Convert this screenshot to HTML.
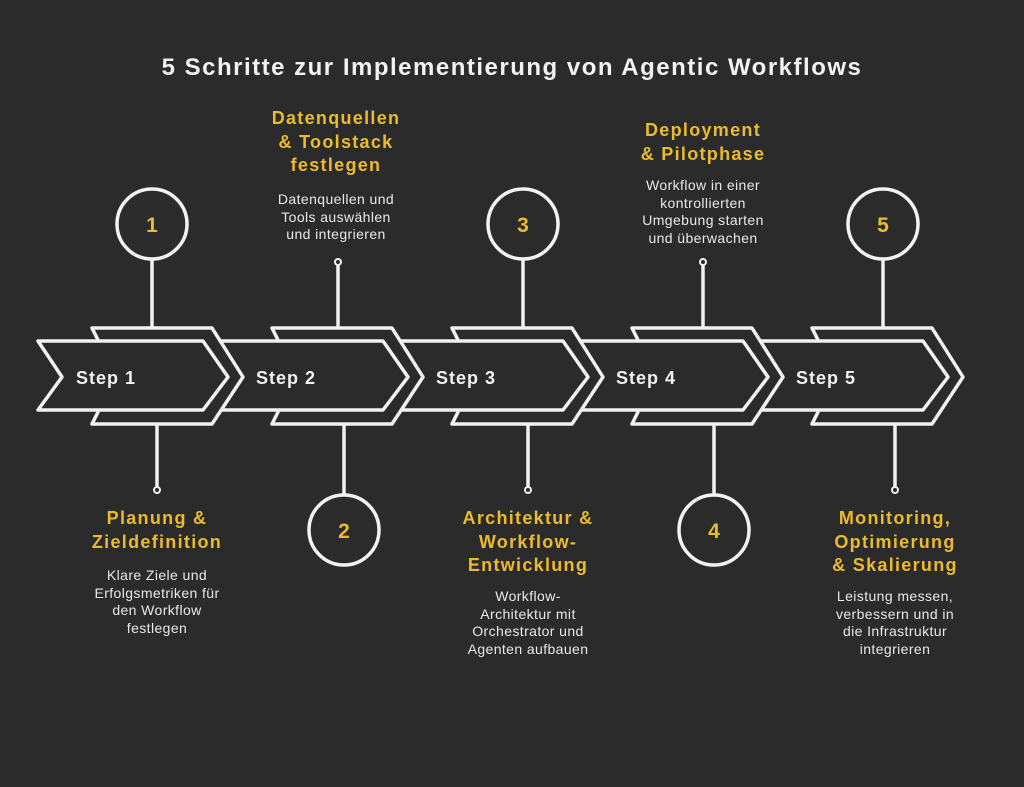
<!DOCTYPE html>
<html><head><meta charset="utf-8"><style>
body{margin:0;width:1024px;height:787px;background:#2b2b2b;overflow:hidden;position:relative;font-family:"Liberation Sans",sans-serif}
.t{position:absolute;text-align:center;width:220px}
.h{color:#ecbb2c;font-weight:bold;font-size:18px;line-height:23.5px;letter-spacing:1.3px}
.b{color:#e8e8e8;font-size:14px;line-height:17.7px;letter-spacing:0.4px}
svg{position:absolute;left:0;top:0}
</style></head><body>
<svg width="1024" height="787" fill="none" stroke="#f2f2f2" stroke-width="3.5" stroke-linejoin="round">
<g>
<polygon fill="#2b2b2b" points="812,328 932,328 963,377 932,424 812,424 818,412 818,340"/>
<polygon fill="#2b2b2b" points="758,341 923,341 948,377 923,410 758,410 782,377"/>
<polygon fill="#2b2b2b" points="632,328 752,328 783,377 752,424 632,424 638,412 638,340"/>
<polygon fill="#2b2b2b" points="578,341 743,341 768,377 743,410 578,410 602,377"/>
<polygon fill="#2b2b2b" points="452,328 572,328 603,377 572,424 452,424 458,412 458,340"/>
<polygon fill="#2b2b2b" points="398,341 563,341 588,377 563,410 398,410 422,377"/>
<polygon fill="#2b2b2b" points="272,328 392,328 423,377 392,424 272,424 278,412 278,340"/>
<polygon fill="#2b2b2b" points="218,341 383,341 408,377 383,410 218,410 242,377"/>
<polygon fill="#2b2b2b" points="92,328 212,328 243,377 212,424 92,424 98,412 98,340"/>
<polygon fill="#2b2b2b" points="38,341 203,341 228,377 203,410 38,410 62,377"/>
</g>
<line x1="152" y1="259" x2="152" y2="328"/><circle cx="152" cy="224" r="35"/>
<line x1="157" y1="424" x2="157" y2="488"/><circle cx="157" cy="490" r="3" stroke-width="2"/>
<line x1="338" y1="265" x2="338" y2="328"/><circle cx="338" cy="262" r="3" stroke-width="2"/>
<line x1="344" y1="424" x2="344" y2="495"/><circle cx="344" cy="530" r="35"/>
<line x1="523" y1="259" x2="523" y2="328"/><circle cx="523" cy="224" r="35"/>
<line x1="528" y1="424" x2="528" y2="488"/><circle cx="528" cy="490" r="3" stroke-width="2"/>
<line x1="703" y1="265" x2="703" y2="328"/><circle cx="703" cy="262" r="3" stroke-width="2"/>
<line x1="714" y1="424" x2="714" y2="495"/><circle cx="714" cy="530" r="35"/>
<line x1="883" y1="259" x2="883" y2="328"/><circle cx="883" cy="224" r="35"/>
<line x1="895" y1="424" x2="895" y2="488"/><circle cx="895" cy="490" r="3" stroke-width="2"/>
<g fill="#ecbb2c" stroke="none" font-family="Liberation Sans" font-weight="bold" font-size="21" text-anchor="middle">
<text x="152" y="232">1</text><text x="344" y="538">2</text><text x="523" y="232">3</text><text x="714" y="538">4</text><text x="883" y="232">5</text>
</g>
<g fill="#f2f2f2" stroke="none" font-family="Liberation Sans" font-weight="bold" font-size="18" letter-spacing="1">
<text x="76" y="384">Step 1</text><text x="256" y="384">Step 2</text><text x="436" y="384">Step 3</text><text x="616" y="384">Step 4</text><text x="796" y="384">Step 5</text>
</g>
<text x="512" y="75" fill="#f2f2f2" stroke="none" font-family="Liberation Sans" font-weight="bold" font-size="24" letter-spacing="1.5" text-anchor="middle">5 Schritte zur Implementierung von Agentic Workflows</text>
</svg>
<div class="t h" style="left:226px;top:107px">Datenquellen<br>&amp; Toolstack<br>festlegen</div>
<div class="t b" style="left:226px;top:191px">Datenquellen und<br>Tools auswählen<br>und integrieren</div>
<div class="t h" style="left:593px;top:119px">Deployment<br>&amp; Pilotphase</div>
<div class="t b" style="left:593px;top:177px">Workflow in einer<br>kontrollierten<br>Umgebung starten<br>und überwachen</div>
<div class="t h" style="left:47px;top:507px">Planung &amp;<br>Zieldefinition</div>
<div class="t b" style="left:47px;top:567px">Klare Ziele und<br>Erfolgsmetriken für<br>den Workflow<br>festlegen</div>
<div class="t h" style="left:418px;top:507px">Architektur &amp;<br>Workflow-<br>Entwicklung</div>
<div class="t b" style="left:418px;top:588px">Workflow-<br>Architektur mit<br>Orchestrator und<br>Agenten aufbauen</div>
<div class="t h" style="left:785px;top:507px">Monitoring,<br>Optimierung<br>&amp; Skalierung</div>
<div class="t b" style="left:785px;top:588px">Leistung messen,<br>verbessern und in<br>die Infrastruktur<br>integrieren</div>
</body></html>
